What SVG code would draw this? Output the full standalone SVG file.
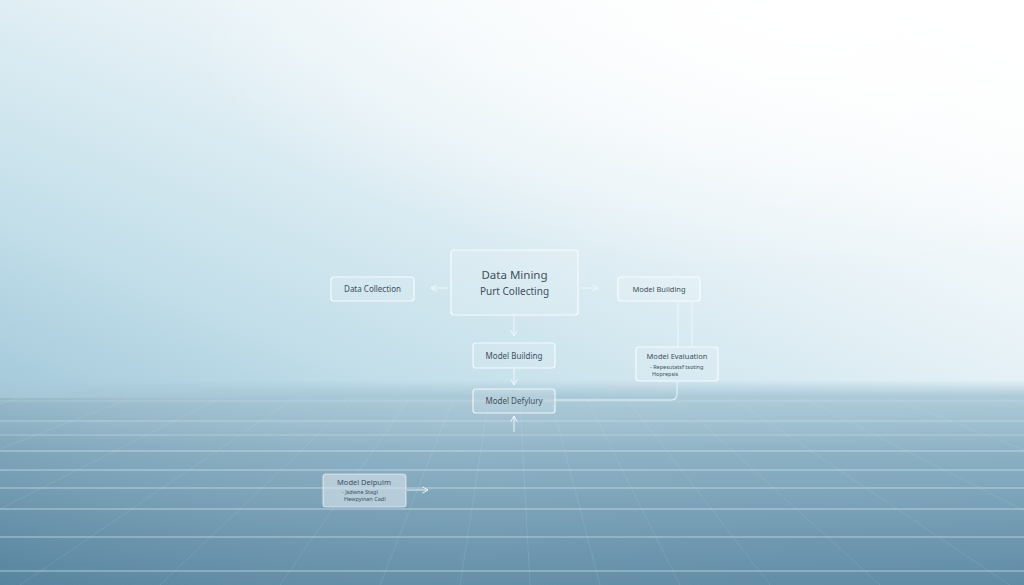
<svg xmlns="http://www.w3.org/2000/svg" width="1024" height="585" viewBox="0 0 1024 585">
  <defs>
    <linearGradient id="sky" x1="0" y1="1" x2="1" y2="0">
      <stop offset="0" stop-color="#a0c6d8"/>
      <stop offset="0.25" stop-color="#c3dfea"/>
      <stop offset="0.55" stop-color="#e5f1f6"/>
      <stop offset="0.8" stop-color="#fafcfd"/>
      <stop offset="1" stop-color="#ffffff"/>
    </linearGradient>
    <radialGradient id="glow" cx="0.78" cy="0.05" r="0.6">
      <stop offset="0" stop-color="#ffffff" stop-opacity="0.9"/>
      <stop offset="1" stop-color="#ffffff" stop-opacity="0"/>
    </radialGradient>
    <linearGradient id="floor" x1="0" y1="0" x2="0" y2="1">
      <stop offset="0" stop-color="#a6c6d5" stop-opacity="0"/>
      <stop offset="0.08" stop-color="#a6c6d5" stop-opacity="0.9"/>
      <stop offset="0.35" stop-color="#88aec2"/>
      <stop offset="0.7" stop-color="#6e98b0"/>
      <stop offset="1" stop-color="#5b88a3"/>
    </linearGradient>
    <linearGradient id="floorSide" x1="0" y1="0" x2="1" y2="0">
      <stop offset="0" stop-color="#3f6b85" stop-opacity="0.15"/>
      <stop offset="0.5" stop-color="#ffffff" stop-opacity="0.06"/>
      <stop offset="1" stop-color="#ffffff" stop-opacity="0.03"/>
    </linearGradient>
    <clipPath id="floorClip"><rect x="0" y="398" width="1024" height="187"/></clipPath>
    <marker id="chev" viewBox="0 0 10 10" refX="8" refY="5" markerWidth="8" markerHeight="8" orient="auto" markerUnits="userSpaceOnUse">
      <path d="M1,1 L8,5 L1,9" fill="none" stroke="#f4f9fb" stroke-width="1.2"/>
    </marker>
  </defs>
  <style>
    .node rect { fill: #ffffff; fill-opacity: 0.12; stroke: #ffffff; stroke-opacity: 0.8; stroke-width: 1.2; }
    .node text { font-family: "Noto Sans", "DejaVu Sans", sans-serif; fill: #3e4f5e; text-anchor: middle; }
    .lbl { font-size: 8px; }
    .big { font-size: 11.5px; }
    .sub { font-size: 5.5px; }
    .conn { fill: none; stroke: #f2f8fa; stroke-opacity: 0.85; stroke-width: 1.1; }
    .hl { stroke: #d4e6ee; stroke-opacity: 0.45; stroke-width: 1.3; }
    .vl { stroke: #e3eef3; stroke-opacity: 0.15; stroke-width: 0.8; }
  </style>

  <rect x="0" y="0" width="1024" height="420" fill="url(#sky)"/>
  <rect x="0" y="0" width="1024" height="420" fill="url(#glow)"/>
  <rect x="0" y="380" width="1024" height="205" fill="url(#floor)"/>
  <rect x="0" y="398" width="1024" height="187" fill="url(#floorSide)"/>

  <g id="grid" clip-path="url(#floorClip)">
    <g class="vl">
      <line x1="512" y1="250" x2="-900" y2="585"/>
      <line x1="512" y1="250" x2="-600" y2="585"/>
      <line x1="512" y1="250" x2="-350" y2="585"/>
      <line x1="512" y1="250" x2="-150" y2="585"/>
      <line x1="512" y1="250" x2="20" y2="585"/>
      <line x1="512" y1="250" x2="160" y2="585"/>
      <line x1="512" y1="250" x2="280" y2="585"/>
      <line x1="512" y1="250" x2="380" y2="585"/>
      <line x1="512" y1="250" x2="460" y2="585"/>
      <line x1="512" y1="250" x2="530" y2="585"/>
      <line x1="512" y1="250" x2="600" y2="585"/>
      <line x1="512" y1="250" x2="680" y2="585"/>
      <line x1="512" y1="250" x2="770" y2="585"/>
      <line x1="512" y1="250" x2="880" y2="585"/>
      <line x1="512" y1="250" x2="1010" y2="585"/>
      <line x1="512" y1="250" x2="1170" y2="585"/>
      <line x1="512" y1="250" x2="1370" y2="585"/>
      <line x1="512" y1="250" x2="1620" y2="585"/>
      <line x1="512" y1="250" x2="1950" y2="585"/>
    </g>
    <g class="hl">
      <line x1="0" y1="401" x2="1024" y2="401" stroke-opacity="0.22"/>
      <line x1="0" y1="421" x2="1024" y2="421" stroke-opacity="0.3"/>
      <line x1="0" y1="435" x2="1024" y2="435" stroke-opacity="0.3"/>
      <line x1="0" y1="451" x2="1024" y2="451"/>
      <line x1="0" y1="470" x2="1024" y2="470"/>
      <line x1="0" y1="488" x2="1024" y2="488"/>
      <line x1="0" y1="509" x2="1024" y2="509"/>
      <line x1="0" y1="537" x2="1024" y2="537"/>
      <line x1="0" y1="571" x2="1024" y2="571"/>
    </g>
  </g>

  <g id="connectors">
    <line class="conn" x1="447" y1="288" x2="431" y2="288" marker-end="url(#chev)"/>
    <line class="conn" x1="581" y1="288" x2="598" y2="288" marker-end="url(#chev)"/>
    <line class="conn" x1="514" y1="316" x2="514" y2="336" marker-end="url(#chev)"/>
    <line class="conn" x1="514" y1="369" x2="514" y2="385" marker-end="url(#chev)"/>
    <line class="conn" x1="514" y1="432" x2="514" y2="416" marker-end="url(#chev)"/>
    <line class="conn" x1="678" y1="302" x2="678" y2="347"/>
    <line class="conn" x1="692" y1="302" x2="692" y2="347"/>
    <path class="conn" d="M677,382 L677,394 Q677,400 671,400 L555,400"/>
    <line class="conn" x1="407" y1="490" x2="428" y2="490" marker-end="url(#chev)"/>
  </g>

  <g id="data-collection" class="node">
    <rect x="331" y="277" width="83" height="24" rx="3"/>
    <text class="lbl" x="372.5" y="292">Data Collection</text>
  </g>
  <g id="data-mining" class="node">
    <rect x="451" y="250" width="127" height="65" rx="3"/>
    <text class="big" x="514.5" y="279">Data Mining</text>
    <text class="lbl" x="514.5" y="295" style="font-size:10px">Purt Collecting</text>
  </g>
  <g id="model-building-right" class="node">
    <rect x="618" y="277" width="82" height="24" rx="3"/>
    <text class="lbl" x="659" y="292" style="font-size:7.5px">Model Building</text>
  </g>
  <g id="model-building" class="node">
    <rect x="473" y="343" width="82" height="25" rx="3"/>
    <text class="lbl" x="514" y="358.5">Model Building</text>
  </g>
  <g id="model-evaluation" class="node">
    <rect x="636" y="347" width="82" height="34" rx="3"/>
    <text class="lbl" x="677" y="359" style="font-size:7.5px">Model Evaluation</text>
    <text class="sub" x="650" y="369" style="text-anchor:start">- Repesutatsf tsoting</text>
    <text class="sub" x="652" y="376" style="text-anchor:start">Hoprepsis</text>
  </g>
  <g id="model-deployment" class="node">
    <rect x="473" y="389" width="82" height="24" rx="3"/>
    <text class="lbl" x="514" y="404">Model Defylury</text>
  </g>
  <g id="model-deployment-bottom" class="node">
    <rect x="323" y="474" width="83" height="33" rx="3" style="fill:#d3e2e9;fill-opacity:0.65;stroke-opacity:0.55"/>
    <text class="lbl" x="364" y="485" style="font-size:7.5px">Model Delpulm</text>
    <text class="sub" x="342" y="494" style="text-anchor:start">- Jsdwne Stagl</text>
    <text class="sub" x="344" y="501" style="text-anchor:start">Hewpyinan Cadl</text>
  </g>
</svg>
